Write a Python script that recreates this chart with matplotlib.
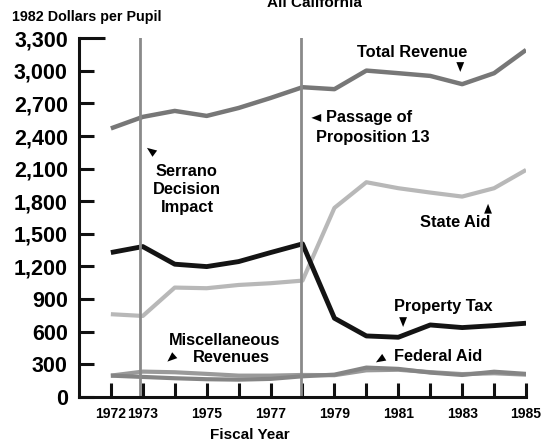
import matplotlib
matplotlib.use('Agg')
import matplotlib.pyplot as plt

plt.rcParams['font.family'] = ['Liberation Sans', 'DejaVu Sans']
plt.rcParams['font.weight'] = 'bold'

years = list(range(1972, 1986))

# 1982 dollars per pupil
total_revenue = [2470, 2576, 2631, 2585, 2658, 2750, 2849, 2831, 3002, 2978, 2953, 2877, 2978, 3192]
state_aid = [761, 745, 1006, 1000, 1030, 1046, 1070, 1739, 1975, 1920, 1880, 1843, 1920, 2088]
property_tax = [1328, 1383, 1221, 1199, 1245, 1328, 1408, 724, 561, 549, 662, 638, 656, 678]
federal_aid = [196, 184, 172, 163, 159, 166, 190, 205, 270, 258, 224, 202, 232, 212]
misc_revenues = [196, 233, 227, 212, 196, 196, 202, 200, 245, 250, 228, 210, 218, 205]

event_years = [1972.9, 1977.95]

ytick_vals = list(range(0, 3301, 300))
xtick_labels = ['1972', '1973', '', '1975', '', '1977', '', '1979', '', '1981', '', '1983', '', '1985']

fig = plt.figure(figsize=(5.52, 4.44), dpi=100)
ax = fig.add_axes([0.143, 0.106, 0.81, 0.808])

ax.plot(years, misc_revenues, color='#9a9a9a', lw=3, solid_capstyle='butt')
ax.plot(years, federal_aid, color='#858585', lw=3, solid_capstyle='butt')
ax.plot(years, state_aid, color='#b8b8b8', lw=3, solid_capstyle='butt')
ax.plot(years, total_revenue, color='#777777', lw=3.2, solid_capstyle='butt')
ax.plot(years, property_tax, color='#141414', lw=3.5, solid_capstyle='butt')

for ev in event_years:
    ax.axvline(ev, color='#8a8a8a', lw=2)

ax.set_xlim(1971, 1985)
ax.set_ylim(0, 3300)
ax.set_yticks(ytick_vals)
ax.set_yticklabels([f'{v:,}' for v in ytick_vals], fontsize=15.5)
ax.set_xticks(years)
ax.set_xticklabels(xtick_labels, fontsize=10)

for s in ['top', 'right']:
    ax.spines[s].set_visible(False)
for s in ['left', 'bottom']:
    ax.spines[s].set_linewidth(2.2)
    ax.spines[s].set_color('#111111')

ax.tick_params(axis='y', direction='in', length=11, width=2.2, pad=8, color='#111111')
ax.tick_params(axis='x', direction='in', length=10, width=2.2, pad=7, color='#111111')
ax.yaxis.get_major_ticks()[-1].tick1line.set_markersize(19)


def arrow(tip, tail):
    ax.annotate('', xy=tip, xytext=tail,
                arrowprops=dict(arrowstyle='-|>,head_length=0.7,head_width=0.28',
                                lw=0.01, color='black', shrinkA=0, shrinkB=0))


fs = 11.8
ax.text(1981.43, 3165, 'Total Revenue', ha='center', va='center', fontsize=fs)
arrow((1982.94, 2990), (1982.94, 3085))

ax.text(1978.74, 2567, 'Passage of', ha='left', va='center', fontsize=fs)
ax.text(1978.42, 2383, 'Proposition 13', ha='left', va='center', fontsize=fs)
arrow((1978.28, 2567), (1978.62, 2567))

ax.text(1974.38, 1904, 'Serrano\nDecision\nImpact', ha='center', va='center',
        fontsize=fs, linespacing=1.25)
arrow((1973.13, 2291), (1973.43, 2226))

ax.text(1982.78, 1601, 'State Aid', ha='center', va='center', fontsize=fs)
arrow((1983.81, 1776), (1983.81, 1680))

ax.text(1982.40, 828, 'Property Tax', ha='center', va='center', fontsize=fs)
arrow((1981.15, 644), (1981.15, 740))

ax.text(1982.25, 368, 'Federal Aid', ha='center', va='center', fontsize=fs)
arrow((1980.30, 318), (1980.64, 380))

ax.text(1975.57, 515, 'Miscellaneous', ha='center', va='center', fontsize=fs)
ax.text(1975.76, 359, 'Revenues', ha='center', va='center', fontsize=fs)
arrow((1973.77, 325), (1974.03, 392))

fig.text(0.022, 0.962, '1982 Dollars per Pupil', ha='left', va='center', fontsize=10.3)
fig.text(0.569, 0.993, 'All California', ha='center', va='center', fontsize=11)
fig.text(0.453, 0.020, 'Fiscal Year', ha='center', va='center', fontsize=11)

fig.savefig('out.png', dpi=100)
